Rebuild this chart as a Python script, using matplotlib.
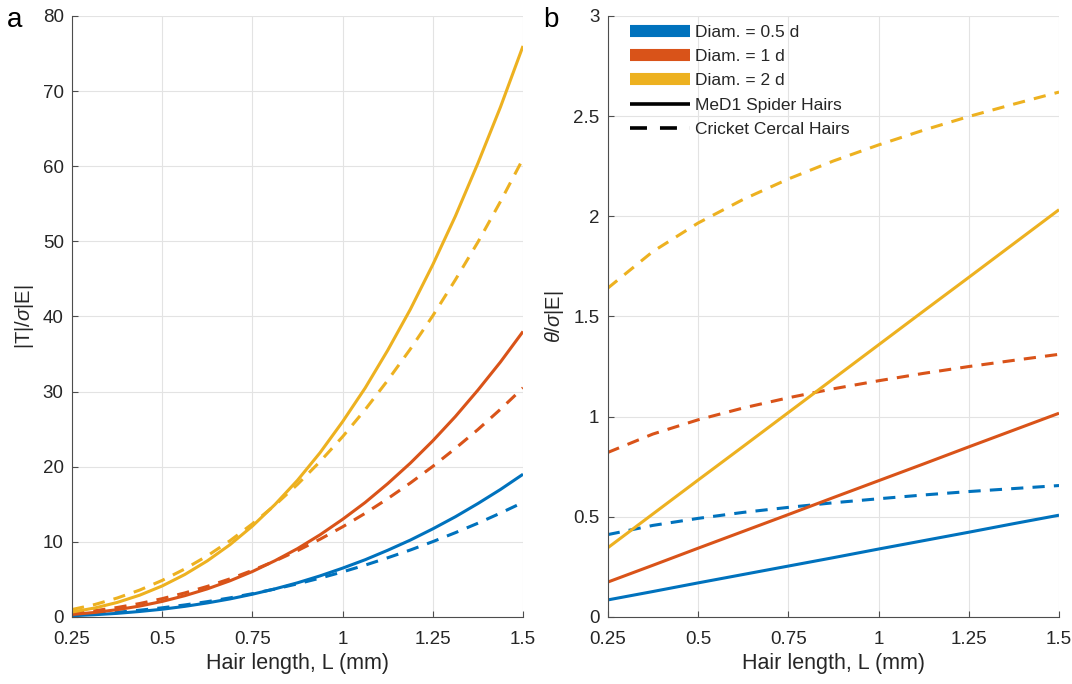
import matplotlib.pyplot as plt
from matplotlib.lines import Line2D

plt.rcParams['font.family'] = ['Liberation Sans', 'DejaVu Sans']
plt.rcParams['mathtext.fontset'] = 'custom'
plt.rcParams['mathtext.it'] = 'Liberation Sans:italic'
plt.rcParams['mathtext.rm'] = 'Liberation Sans'

# --- dados: comprimento do pelo (mm) ---
comp_a = [0.25, 0.3125, 0.375, 0.4375, 0.5, 0.5625, 0.625, 0.6875, 0.75, 0.8125,
          0.875, 0.9375, 1.0, 1.0625, 1.125, 1.1875, 1.25, 1.3125, 1.375, 1.4375, 1.5]
comp_b = [0.25, 0.375, 0.5, 0.625, 0.75, 0.875, 1.0, 1.125, 1.25, 1.375, 1.5]

# painel a: |T| / sigma|E|
torque_esp_05 = [0.17, 0.3, 0.48, 0.73, 1.03, 1.41, 1.87, 2.4, 3.03, 3.74, 4.55,
                 5.47, 6.5, 7.62, 8.88, 10.23, 11.73, 13.34, 15.1, 16.97, 19.0]
torque_esp_1 = [0.33, 0.6, 0.97, 1.45, 2.07, 2.83, 3.74, 4.81, 6.05, 7.49, 9.1,
                10.94, 13.0, 15.24, 17.75, 20.47, 23.45, 26.68, 30.2, 33.94, 38.0]
torque_esp_2 = [0.66, 1.19, 1.93, 2.9, 4.13, 5.65, 7.47, 9.61, 12.1, 14.97, 18.2,
                21.87, 26.0, 30.48, 35.5, 40.93, 46.9, 53.35, 60.4, 67.88, 76.0]
torque_gri_05 = [0.25, 0.41, 0.63, 0.9, 1.22, 1.6, 2.04, 2.54, 3.1, 3.72, 4.41,
                 5.17, 6.0, 6.9, 7.88, 8.91, 10.03, 11.22, 12.48, 13.83, 15.25]
torque_gri_1 = [0.5, 0.83, 1.26, 1.79, 2.44, 3.2, 4.07, 5.07, 6.2, 7.45, 8.83,
                10.35, 12.0, 13.8, 15.75, 17.83, 20.05, 22.44, 24.95, 27.65, 30.5]
torque_gri_2 = [0.99, 1.65, 2.52, 3.58, 4.87, 6.39, 8.14, 10.14, 12.4, 14.89, 17.65,
                20.69, 24.0, 27.6, 31.5, 35.65, 40.1, 44.88, 49.9, 55.3, 61.0]

# painel b: theta / sigma|E|
angulo_esp_05 = [0.085, 0.127, 0.17, 0.212, 0.254, 0.296, 0.339, 0.381, 0.423, 0.466, 0.508]
angulo_esp_1 = [0.174, 0.258, 0.343, 0.427, 0.511, 0.596, 0.68, 0.764, 0.849, 0.933, 1.017]
angulo_esp_2 = [0.345, 0.514, 0.683, 0.851, 1.02, 1.189, 1.358, 1.527, 1.695, 1.864, 2.033]
angulo_gri_05 = [0.411, 0.457, 0.492, 0.522, 0.547, 0.57, 0.59, 0.609, 0.626, 0.641, 0.656]
angulo_gri_1 = [0.821, 0.913, 0.984, 1.043, 1.094, 1.139, 1.179, 1.216, 1.25, 1.281, 1.311]
angulo_gri_2 = [1.641, 1.824, 1.966, 2.084, 2.186, 2.276, 2.356, 2.43, 2.498, 2.56, 2.62]

x_ticks = [0.25, 0.5, 0.75, 1.0, 1.25, 1.5]
x_ticklabels = ['0.25', '0.5', '0.75', '1', '1.25', '1.5']
ya_ticks = [0, 10, 20, 30, 40, 50, 60, 70, 80]
yb_ticks = [0, 0.5, 1, 1.5, 2, 2.5, 3]
yb_ticklabels = ['0', '0.5', '1', '1.5', '2', '2.5', '3']

rotulos = ['Diam. = 0.5 d', 'Diam. = 1 d', 'Diam. = 2 d']
CORES = ['#0072BD', '#D95319', '#EDB120']
TEXTO = '#262626'
LW = 2.2
TRACO = (0, (4, 3))

fig = plt.figure(figsize=(10.72, 6.84), dpi=100)
ax_a = fig.add_axes([0.0672, 0.098, 0.4207, 0.8787])
ax_b = fig.add_axes([0.5669, 0.098, 0.4210, 0.8787])


def formatar(ax, yticks, yticklabels, ylim):
    ax.set_xlim(0.25, 1.5)
    ax.set_ylim(*ylim)
    ax.set_xticks(x_ticks)
    ax.set_xticklabels(x_ticklabels)
    ax.set_yticks(yticks)
    ax.set_yticklabels(yticklabels)
    ax.grid(True, color='#e3e3e3', linewidth=0.8)
    ax.set_axisbelow(True)
    for lado in ['top', 'right']:
        ax.spines[lado].set_visible(False)
    for lado in ['left', 'bottom']:
        ax.spines[lado].set_color('#4d4d4d')
        ax.spines[lado].set_linewidth(0.8)
    ax.tick_params(direction='in', length=4, width=0.8, colors='#4d4d4d',
                   labelcolor=TEXTO, labelsize=13.5)
    ax.tick_params(axis='x', pad=10)
    ax.tick_params(axis='y', pad=6)
    ax.set_xlabel('Hair length, L (mm)', fontsize=15.5, color=TEXTO, labelpad=4)


# --- painel a ---
esp_a = [torque_esp_05, torque_esp_1, torque_esp_2]
gri_a = [torque_gri_05, torque_gri_1, torque_gri_2]
for cor, s, g in zip(CORES, esp_a, gri_a):
    ax_a.plot(comp_a, s, color=cor, lw=LW, solid_capstyle='butt')
    ax_a.plot(comp_a, g, color=cor, lw=LW, linestyle=TRACO, dash_capstyle='butt')
formatar(ax_a, ya_ticks, [str(v) for v in ya_ticks], (0, 80))
ax_a.set_ylabel(r'|T|/$\sigma$|E|', fontsize=14.5, color=TEXTO, labelpad=5)

# --- painel b ---
esp_b = [angulo_esp_05, angulo_esp_1, angulo_esp_2]
gri_b = [angulo_gri_05, angulo_gri_1, angulo_gri_2]
for cor, s, g in zip(CORES, esp_b, gri_b):
    ax_b.plot(comp_b, s, color=cor, lw=LW, solid_capstyle='butt')
    ax_b.plot(comp_b, g, color=cor, lw=LW, linestyle=TRACO, dash_capstyle='butt')
formatar(ax_b, yb_ticks, yb_ticklabels, (0, 3))
ax_b.set_ylabel(r'$\theta$/$\sigma$|E|', fontsize=14.5, color=TEXTO, labelpad=5)

# legenda: cores = diametro, estilo = tipo de pelo
handles = [Line2D([0], [0], color=c, lw=8.7, solid_capstyle='butt') for c in CORES]
handles.append(Line2D([0], [0], color='black', lw=2.6, solid_capstyle='butt'))
handles.append(Line2D([0], [0], color='black', lw=2.6, linestyle=(0, (4.7, 3.6)),
                      dash_capstyle='butt'))
ax_b.legend(handles=handles, labels=rotulos + ['MeD1 Spider Hairs', 'Cricket Cercal Hairs'],
            loc='upper left', bbox_to_anchor=(0.049, 0.985), frameon=False,
            borderaxespad=0, borderpad=0, handlelength=3.45, handletextpad=0.29,
            labelspacing=0.52, fontsize=12.5, labelcolor=TEXTO)

fig.text(0.006, 0.971, 'a', fontsize=20, color='black', va='center')
fig.text(0.507, 0.971, 'b', fontsize=20, color='black', va='center')

fig.savefig('out.png', dpi=100)
plt.close(fig)
